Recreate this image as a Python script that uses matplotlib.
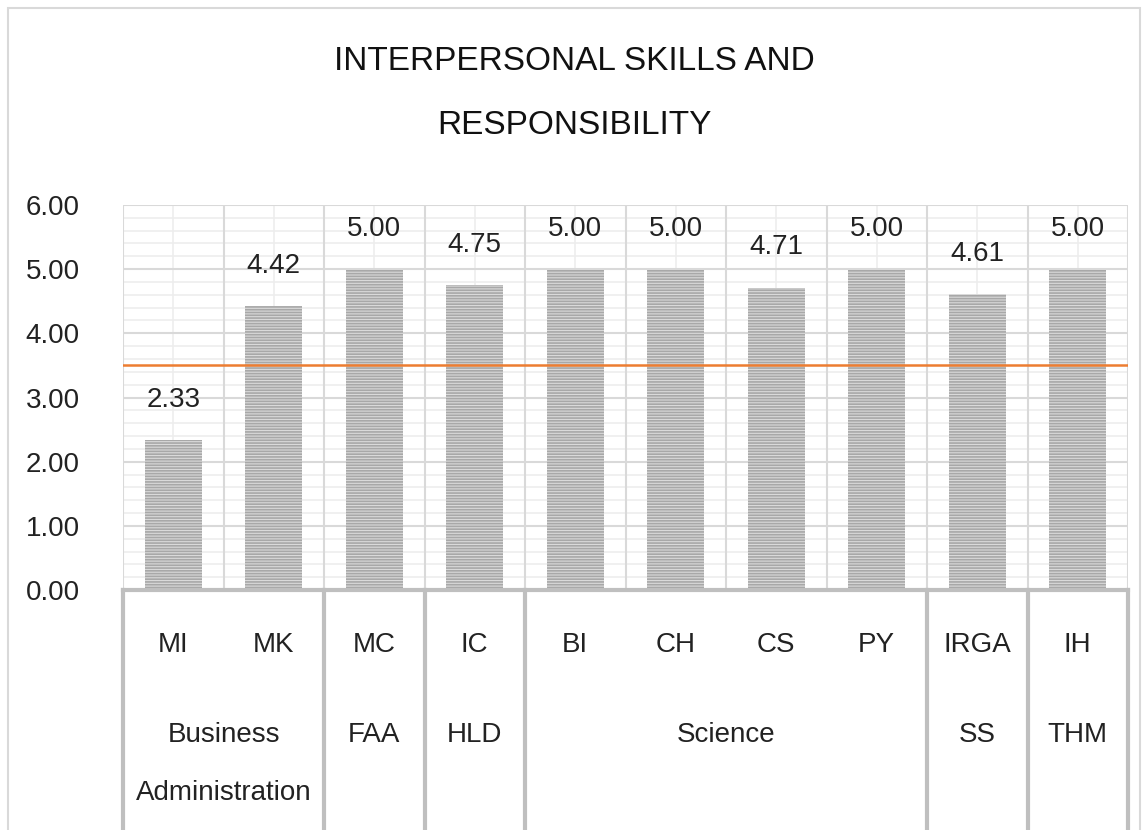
import matplotlib.pyplot as plt
from matplotlib.patches import Rectangle
from matplotlib.transforms import blended_transform_factory
from matplotlib.ticker import MultipleLocator

plt.rcParams['font.family'] = ['Liberation Sans', 'DejaVu Sans']
plt.rcParams['hatch.linewidth'] = 1.2

programs = ['MI', 'MK', 'MC', 'IC', 'BI', 'CH', 'CS', 'PY', 'IRGA', 'IH']
scores = [2.33, 4.42, 5.00, 4.75, 5.00, 5.00, 4.71, 5.00, 4.61, 5.00]
groups = ['Business\nAdministration', 'FAA', 'HLD', 'Science', 'SS', 'THM']
group_sizes = [2, 1, 1, 4, 1, 1]
target = 3.5

fig = plt.figure(figsize=(11.48, 8.30), dpi=100)
ax = fig.add_axes([123 / 1148, 1 - 590 / 830, 1005 / 1148, 385 / 830])

# outer chart border
fig.patches.append(Rectangle((8 / 1148, -0.01), 1132 / 1148, 1 - 8 / 830 + 0.01,
                             transform=fig.transFigure, fill=False,
                             edgecolor='#d9d9d9', linewidth=1.5))

x = list(range(len(programs)))
ax.bar(x, scores, width=0.57, color='#dadada', edgecolor='#a8a8a8',
       linewidth=0, hatch='------', zorder=2)
ax.axhline(target, color='#ED7D31', linewidth=1.8, zorder=3)

for i, v in enumerate(scores):
    ax.annotate(f'{v:.2f}', (i, v), xytext=(0, 29), textcoords='offset points',
                ha='center', va='center', fontsize=20, color='#222222')

ax.set_xlim(-0.5, len(programs) - 0.5)
ax.set_ylim(0, 6)
ax.yaxis.set_major_locator(MultipleLocator(1))
ax.yaxis.set_minor_locator(MultipleLocator(0.2))
ax.yaxis.set_major_formatter(lambda v, p: f'{v:.2f}')
ax.set_xticks([])
ax.tick_params(axis='y', which='both', length=0, labelsize=20, pad=70,
               labelcolor='#222222')
for lab in ax.get_yticklabels():
    lab.set_horizontalalignment('left')

for k in range(7):
    ax.axhline(k, color='#d9d9d9', linewidth=1.5, zorder=1)
for k in range(30):
    if k % 5:
        ax.axhline(k * 0.2, color='#ededed', linewidth=1.2, zorder=0.5)
for k in range(len(programs) * 2 + 1):
    xv = -0.5 + k * 0.5
    ax.axvline(xv, color='#d9d9d9' if k % 2 == 0 else '#ededed',
               linewidth=1.5 if k % 2 == 0 else 1.2, zorder=0.6)
for s in ax.spines.values():
    s.set_visible(False)

# multi-level category axis
tr = blended_transform_factory(ax.transData, ax.transAxes)
ax.plot([-0.5, len(programs) - 0.5], [0, 0], transform=tr, color='#bfbfbf',
        linewidth=3, clip_on=False, zorder=4)
px = 1 / 385
for i, p in enumerate(programs):
    ax.text(i, -55 * px, p, transform=tr, ha='center', va='center',
            fontsize=20, color='#222222')
start = -0.5
bounds = [start]
for g, n in zip(groups, group_sizes):
    mid = start + n / 2
    ax.text(mid, -132 * px, g, transform=tr, ha='center', va='top',
            fontsize=20, color='#222222', linespacing=2.6)
    start += n
    bounds.append(start)
for b in bounds:
    ax.plot([b, b], [0, -240 * px], transform=tr, color='#bfbfbf',
            linewidth=3, clip_on=False, zorder=4)

fig.text(0.5, 1 - 62 / 830, 'INTERPERSONAL SKILLS AND', ha='center',
         va='center', fontsize=24, color='#111111')
fig.text(0.5, 1 - 125 / 830, 'RESPONSIBILITY', ha='center',
         va='center', fontsize=24, color='#111111')

fig.savefig('out.png', dpi=100)
